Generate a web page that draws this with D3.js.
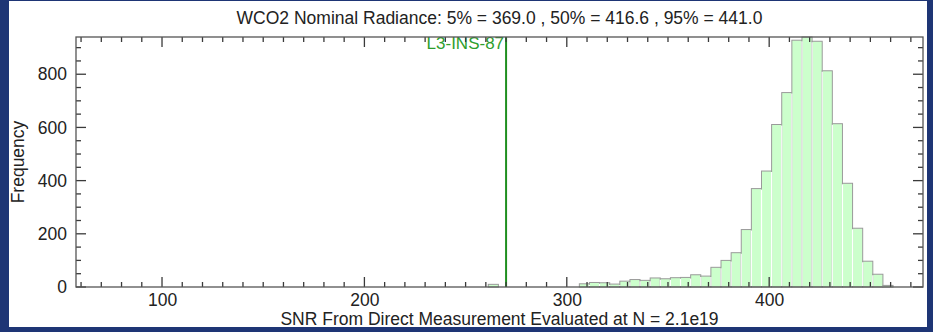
<!DOCTYPE html>
<html>
<head>
<meta charset="utf-8">
<script src="https://cdn.jsdelivr.net/npm/d3@7"></script>
<style>
  body { margin: 0; background: #1e3575; }
  svg { display: block; font-family: "Liberation Sans", Arial, sans-serif; }
</style>
</head>
<body>
<div id="container"></div>
<script>
// histogram bins (left edge) and counts, bin width 5
const binStarts = [261.2, 306.2, 311.2, 316.2, 321.2, 326.2, 331.2, 336.2, 341.2, 346.2, 351.2,
  356.2, 361.2, 366.2, 371.2, 376.2, 381.2, 386.2, 391.2, 396.2, 401.2, 406.2, 411.2,
  416.2, 421.2, 426.2, 431.2, 436.2, 441.2, 446.2, 451.2, 456.2];
const counts = [10, 12, 17, 16, 11, 22, 28, 25, 34, 31, 35,
  36, 46, 41, 74, 100, 129, 216, 370, 436, 611, 731, 928,
  940, 924, 813, 614, 390, 221, 97, 48, 6];
const binWidth = 5;

const xMajorTicks = [100, 200, 300, 400];
const yMajorTicks = [0, 200, 400, 600, 800];
const refLine = { value: 270, label: 'L3-INS-87' };

const title = 'WCO2 Nominal Radiance: 5% = 369.0 , 50% = 416.6 , 95% = 441.0';
const xTitle = 'SNR From Direct Measurement Evaluated at N = 2.1e19';
const yTitle = 'Frequency';

const W = 933, H = 332;
const frame = { left: 76, right: 923, top: 37, bottom: 287 };

const svg = d3.select('#container').append('svg')
  .attr('width', W)
  .attr('height', H);

// white panel inside the navy border
svg.append('rect')
  .attr('x', 9).attr('y', 1)
  .attr('width', 918).attr('height', 326)
  .attr('fill', '#ffffff');

const x = d3.scaleLinear().domain([57.5, 476]).range([frame.left, frame.right]);
const y = d3.scaleLinear().domain([0, 940]).range([frame.bottom, frame.top]);

// bars
const bars = binStarts.map((s, i) => ({ x0: s, x1: s + binWidth, n: counts[i] }));

svg.append('g').selectAll('rect')
  .data(bars)
  .enter().append('rect')
  .attr('x', d => x(d.x0))
  .attr('y', d => y(d.n))
  .attr('width', d => x(d.x1) - x(d.x0))
  .attr('height', d => y(0) - y(d.n))
  .attr('fill', '#ccffcc')
  .attr('stroke', '#9a9a9a')
  .attr('stroke-width', 1);

// white separators between touching bars
const seps = [];
for (let i = 0; i < bars.length - 1; i++) {
  if (Math.abs(bars[i].x1 - bars[i + 1].x0) < 0.01) {
    seps.push({ at: bars[i].x1, n: Math.min(bars[i].n, bars[i + 1].n) });
  }
}
svg.append('g').selectAll('line')
  .data(seps)
  .enter().append('line')
  .attr('x1', d => x(d.at)).attr('x2', d => x(d.at))
  .attr('y1', d => y(d.n) + 1).attr('y2', y(0) - 1)
  .attr('stroke', '#ffffff')
  .attr('stroke-width', 1.2);

// reference line
svg.append('line')
  .attr('x1', x(refLine.value)).attr('x2', x(refLine.value))
  .attr('y1', y.range()[1]).attr('y2', y.range()[0])
  .attr('stroke', '#1f8f1f')
  .attr('stroke-width', 2);

svg.append('text')
  .attr('x', x(refLine.value) - 2)
  .attr('y', frame.top + 12)
  .attr('text-anchor', 'end')
  .attr('fill', '#2e9e2e')
  .style('font-size', '17px')
  .text(refLine.label);

// ticks pointing inward on all four sides (IDL style)
const xMinor = d3.range(60, 476, 10).filter(v => xMajorTicks.indexOf(v) < 0);
const yMinor = d3.range(50, 940, 50).filter(v => yMajorTicks.indexOf(v) < 0);

const xTicks = xMajorTicks.map(v => ({ v: v, len: 10 })).concat(xMinor.map(v => ({ v: v, len: 5 })));
const yTicks = yMajorTicks.map(v => ({ v: v, len: 10 })).concat(yMinor.map(v => ({ v: v, len: 5 })));

const tickG = svg.append('g')
  .attr('stroke', '#3a3a3a')
  .attr('stroke-width', 1.3);

tickG.selectAll('.xb').data(xTicks).enter().append('line')
  .attr('x1', d => x(d.v)).attr('x2', d => x(d.v))
  .attr('y1', frame.bottom).attr('y2', d => frame.bottom - d.len);
tickG.selectAll('.xt').data(xTicks).enter().append('line')
  .attr('x1', d => x(d.v)).attr('x2', d => x(d.v))
  .attr('y1', frame.top).attr('y2', d => frame.top + d.len);
tickG.selectAll('.yl').data(yTicks).enter().append('line')
  .attr('y1', d => y(d.v)).attr('y2', d => y(d.v))
  .attr('x1', frame.left).attr('x2', d => frame.left + d.len);
tickG.selectAll('.yr').data(yTicks).enter().append('line')
  .attr('y1', d => y(d.v)).attr('y2', d => y(d.v))
  .attr('x1', frame.right).attr('x2', d => frame.right - d.len);

// tick labels via d3 axes (no tick marks of their own)
function styleAxis(g) {
  g.select('.domain').remove();
  g.selectAll('.tick line').remove();
  g.selectAll('.tick text').attr('fill', '#222').style('font-size', '17.5px');
}

svg.append('g')
  .attr('transform', 'translate(0,' + frame.bottom + ')')
  .call(d3.axisBottom(x).tickValues(xMajorTicks).tickSize(0).tickPadding(7).tickFormat(d3.format('d')))
  .call(styleAxis);

svg.append('g')
  .attr('transform', 'translate(' + frame.left + ',0)')
  .call(d3.axisLeft(y).tickValues(yMajorTicks).tickSize(0).tickPadding(9).tickFormat(d3.format('d')))
  .call(styleAxis);

// frame
svg.append('rect')
  .attr('x', frame.left).attr('y', frame.top)
  .attr('width', frame.right - frame.left)
  .attr('height', frame.bottom - frame.top)
  .attr('fill', 'none')
  .attr('stroke', '#555')
  .attr('stroke-width', 1.3);

// titles
svg.append('text')
  .attr('x', (frame.left + frame.right) / 2)
  .attr('y', 24)
  .attr('text-anchor', 'middle')
  .attr('fill', '#222')
  .style('font-size', '17.5px')
  .text(title);

svg.append('text')
  .attr('x', (frame.left + frame.right) / 2)
  .attr('y', 325)
  .attr('text-anchor', 'middle')
  .attr('fill', '#222')
  .style('font-size', '17.5px')
  .text(xTitle);

svg.append('text')
  .attr('transform', 'translate(24,' + (frame.top + frame.bottom) / 2 + ') rotate(-90)')
  .attr('text-anchor', 'middle')
  .attr('fill', '#222')
  .style('font-size', '17.5px')
  .text(yTitle);
</script>
</body>
</html>
